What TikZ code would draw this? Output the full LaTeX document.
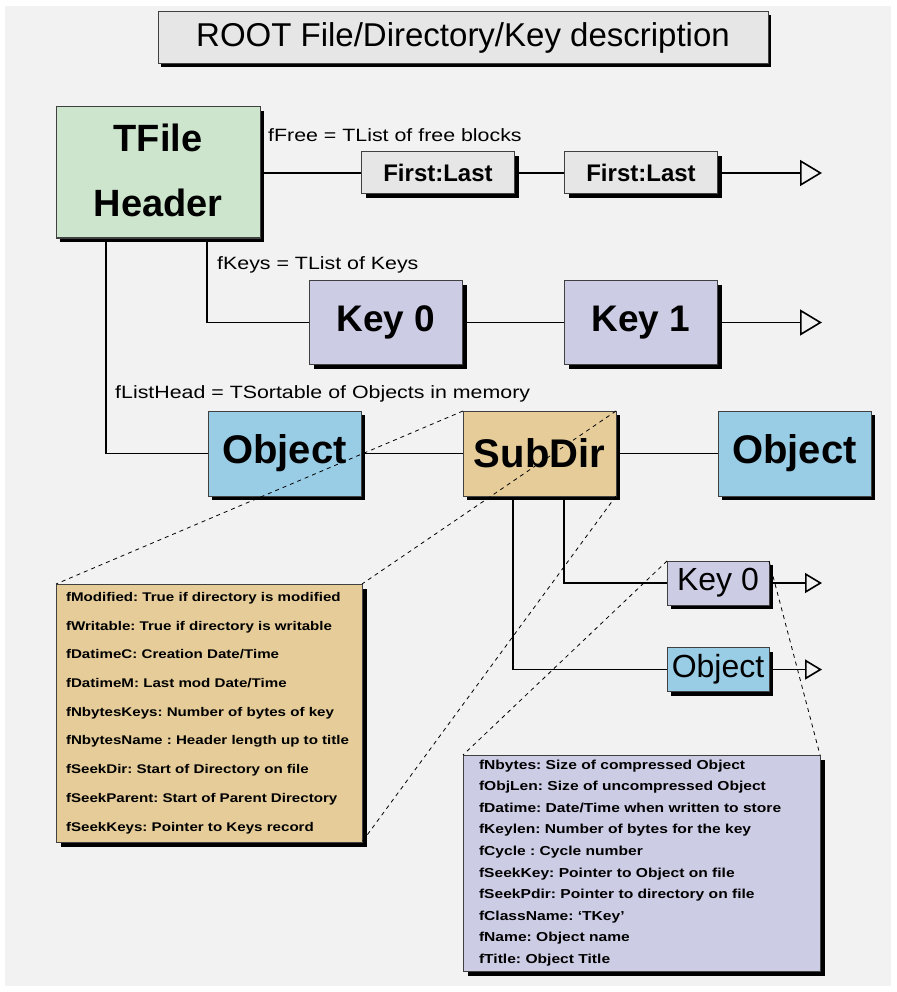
\documentclass[tikz,border=0pt]{standalone}
\usepackage{fontspec}
\setmainfont{Liberation Sans}
\newfontfamily\widefont[FakeStretch=1.2, Ligatures=TeX]{Liberation Sans}
\usetikzlibrary{arrows.meta,positioning,shadows,backgrounds}
\definecolor{bggray}{HTML}{F2F2F2}
\definecolor{titlegray}{HTML}{E6E6E6}
\definecolor{filegreen}{HTML}{CDE5CD}
\definecolor{keypurple}{HTML}{CCCCE5}
\definecolor{objblue}{HTML}{99CCE5}
\definecolor{dirtan}{HTML}{E5CC99}
\definecolor{edgegray}{HTML}{404040}
\frenchspacing
\tikzset{
  blackshadow/.style={drop shadow={shadow xshift=#1, shadow yshift=-#1, fill=black, opacity=1}},
  blackshadow/.default=4pt,
  boxbase/.style={draw=edgegray, line width=1pt, inner sep=0pt, outer sep=0pt, align=center},
  titlebox/.style={boxbase, blackshadow=3pt, fill=titlegray, minimum width=610pt, minimum height=52pt, font=\fontsize{33}{36}\selectfont},
  filebox/.style={boxbase, blackshadow, fill=filegreen, minimum width=204pt, minimum height=131pt, font=\fontsize{38}{65}\selectfont\bfseries},
  freebox/.style={boxbase, blackshadow, fill=titlegray, minimum width=153pt, minimum height=42pt, font=\fontsize{24}{28}\selectfont\bfseries},
  keybox/.style={boxbase, blackshadow, fill=keypurple, minimum width=153pt, minimum height=84pt, font=\fontsize{37}{40}\selectfont\bfseries},
  objbox/.style={boxbase, blackshadow, fill=objblue, minimum width=153pt, minimum height=85pt, font=\fontsize{40}{44}\selectfont\bfseries},
  dirbox/.style={objbox, fill=dirtan},
  smallkey/.style={boxbase, blackshadow, fill=keypurple, minimum width=102pt, minimum height=44pt, font=\fontsize{32}{36}\selectfont},
  smallobj/.style={smallkey, fill=objblue},
  infobox/.style={boxbase, blackshadow=5pt, align=left},
  listlabel/.style={anchor=west, inner sep=0pt, font=\widefont\fontsize{17.8}{20}\selectfont},
  link/.style={black, line width=1.6pt},
  chain/.style={link, -{Triangle[open, length=22pt, width=26pt]}},
  smallchain/.style={link, -{Triangle[open, length=17pt, width=20pt]}},
  zoomline/.style={black, line width=0.8pt, dash pattern=on 4pt off 4pt}
}
\begin{document}
\begin{tikzpicture}[x=1pt, y=-1pt]
  \useasboundingbox (0,0) rectangle (896,992);
  \node[titlebox] (title) at (463,38) {ROOT File/Directory/Key description};
  \node[filebox] (tfile) at (158,172.5) {\raisebox{5pt}{TFile}\\\raisebox{5pt}{Header}};
  \node[freebox] (free1) at (438,173) {First:Last};
  \node[freebox, right=50pt of free1] (free2) {First:Last};
  \coordinate (freeend) at (822,173);
  \node[keybox] (key0) at (386,322.5) {Key 0};
  \node[keybox, right=102pt of key0] (key1) {Key 1};
  \coordinate (keyend) at (822,322.5);
  \node[objbox] (obj1) at (284.5,453.5) {Object};
  \node[dirbox, right=102pt of obj1] (subdir) {SubDir};
  \node[objbox, right=102pt of subdir] (obj2) {Object};
  \node[smallkey] (dkey) at (718,583) {Key 0};
  \node[smallobj] (dobj) at (718,669.5) {Object};
  \coordinate (dkeyend) at (822,583);
  \coordinate (dobjend) at (822,669.5);
  \node[listlabel] (freelbl) at (268,135) {fFree = TList of free blocks};
  \node[listlabel] (keyslbl) at (217,265) {fKeys = TList of Keys};
  \node[listlabel] (headlbl) at (115,394) {fListHead = TSortable of Objects in memory};
  \node[infobox, fill=dirtan, text width=286pt, inner xsep=10pt, minimum height=258pt,
    font=\widefont\fontsize{12.6}{28.7}\selectfont\bfseries] (dirinfo) at (209,713) {%
    fModified: True if directory is modified\\
    fWritable: True if directory is writable\\
    fDatimeC: Creation Date/Time\\
    fDatimeM: Last mod Date/Time\\
    fNbytesKeys: Number of bytes of key\\
    fNbytesName : Header length up to title\\
    fSeekDir: Start of Directory on file\\
    fSeekParent: Start of Parent Directory\\
    fSeekKeys: Pointer to Keys record};
  \node[infobox, fill=keypurple, text width=325pt, inner xsep=16pt, minimum height=216pt,
    font=\widefont\fontsize{13}{21.6}\selectfont\bfseries] (keyinfo) at (641.5,863) {%
    fNbytes: Size of compressed Object\\
    fObjLen: Size of uncompressed Object\\
    fDatime: Date/Time when written to store\\
    fKeylen: Number of bytes for the key\\
    fCycle : Cycle number\\
    fSeekKey: Pointer to Object on file\\
    fSeekPdir: Pointer to directory on file\\
    fClassName: `TKey'\\
    fName: Object name\\
    fTitle: Object Title};
  \begin{scope}[on background layer]
    \fill[bggray] (5,6) rectangle (891,986);
    \draw[link] (free1.west -| tfile.east) -- (free1.west);
    \draw[link] (free1) -- (free2);
    \draw[chain] (free2) -- (freeend);
    \draw[link] ([xshift=49pt]tfile.south) |- (key0.west);
    \draw[link] (key0) -- (key1);
    \draw[chain] (key1) -- (keyend);
    \draw[link] ([xshift=-52pt]tfile.south) |- (obj1.west);
    \draw[link] (obj1) -- (subdir);
    \draw[link] (subdir) -- (obj2);
    \draw[link] ([xshift=24.5pt]subdir.south) |- (dkey.west);
    \draw[link] ([xshift=-26.5pt]subdir.south) |- (dobj.west);
    \draw[smallchain] (dkey) -- (dkeyend);
    \draw[smallchain] (dobj) -- (dobjend);
  \end{scope}
  \draw[zoomline] (subdir.north west) -- (dirinfo.north west);
  \draw[zoomline] (subdir.north east) -- (dirinfo.north east);
  \draw[zoomline] (subdir.south east) -- (dirinfo.south east);
  \draw[zoomline] (dkey.north west) -- (keyinfo.north west);
  \draw[zoomline] (dkey.north east) -- (keyinfo.north east);
\end{tikzpicture}
\end{document}
